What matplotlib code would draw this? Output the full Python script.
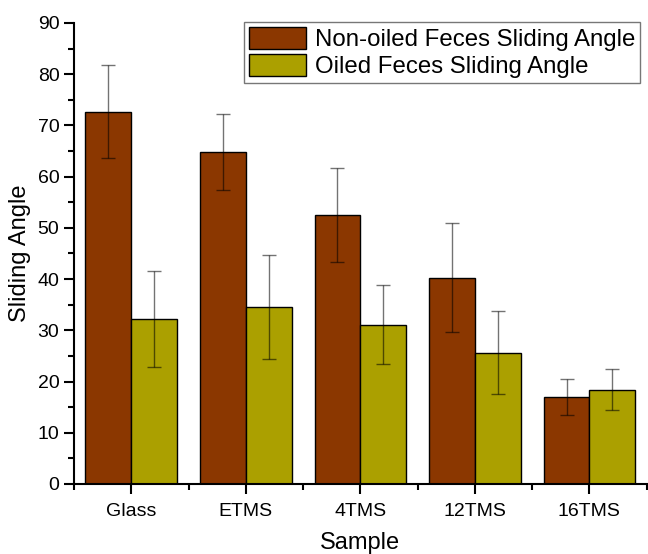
import matplotlib.pyplot as plt
import numpy as np

plt.rcParams["font.family"] = ["Liberation Sans", "DejaVu Sans"]

samples = ["Glass", "ETMS", "4TMS", "12TMS", "16TMS"]
non_oiled = [72.7, 64.8, 52.5, 40.3, 17.0]
non_oiled_err = [9.1, 7.4, 9.1, 10.6, 3.5]
oiled = [32.2, 34.6, 31.1, 25.6, 18.4]
oiled_err = [9.4, 10.2, 7.7, 8.1, 4.0]

fig = plt.figure(figsize=(6.48, 5.54), dpi=100)
ax = fig.add_axes([0.1142, 0.1264, 0.8838, 0.8321])

x = np.arange(1, len(samples) + 1)
width = 0.4
err_kw = dict(ecolor="black", elinewidth=1.0, capsize=5, capthick=1.0, alpha=0.55)

ax.bar(x - width / 2, non_oiled, width, color="#8B3700", edgecolor="black",
       linewidth=1.0, label="Non-oiled Feces Sliding Angle")
ax.bar(x + width / 2, oiled, width, color="#ABA000", edgecolor="black",
       linewidth=1.0, label="Oiled Feces Sliding Angle")
ax.errorbar(x - width / 2, non_oiled, yerr=non_oiled_err, fmt="none", **err_kw)
ax.errorbar(x + width / 2, oiled, yerr=oiled_err, fmt="none", **err_kw)

ax.set_xlim(0.5, 5.5)
ax.set_ylim(0, 90)
ax.set_xticks(x)
ax.set_xticklabels(samples)
ax.set_xticks(np.arange(0.5, 5.6, 1.0), minor=True)
ax.set_yticks(np.arange(0, 91, 10))
ax.set_yticks(np.arange(0, 91, 5), minor=True)

for side in ["top", "right"]:
    ax.spines[side].set_visible(False)
for side in ["left", "bottom"]:
    ax.spines[side].set_linewidth(1.5)

ax.tick_params(axis="both", which="major", direction="out", length=7, width=1.5,
               labelsize=14)
ax.tick_params(axis="both", which="minor", direction="out", length=4, width=1.5)
ax.tick_params(axis="x", which="major", pad=7)

ax.set_xlabel("Sample", fontsize=17, labelpad=8)
ax.set_ylabel("Sliding Angle", fontsize=17, labelpad=5)

leg = ax.legend(loc="upper right", bbox_to_anchor=(640 / 648, 1 - 22 / 554),
                bbox_transform=fig.transFigure, fontsize=17.3, fancybox=False,
                edgecolor="#777777", framealpha=1, borderpad=0.2,
                handlelength=2.4, handleheight=1.05, handletextpad=0.35,
                labelspacing=0.1, borderaxespad=0)
leg.get_frame().set_linewidth(1.0)

fig.savefig("out.png", dpi=100)
